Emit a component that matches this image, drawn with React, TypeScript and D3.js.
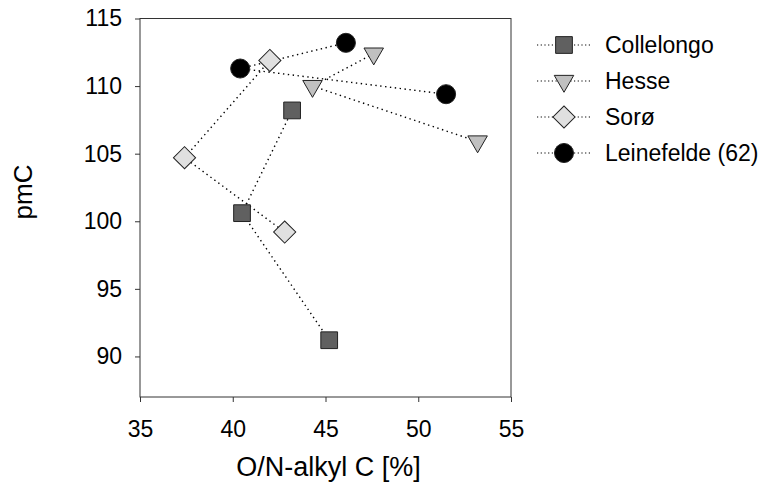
import React, { useEffect, useRef } from 'react';
import * as d3 from 'd3';

const xTicks = [35, 40, 45, 50, 55];
const yTicks = [90, 95, 100, 105, 110, 115];

const seriesNames = ['Collelongo', 'Hesse', 'Sorø', 'Leinefelde (62)'];
const colleX = [43.2, 40.5, 45.2];
const colleY = [108.2, 100.6, 91.2];
const hesseX = [47.6, 44.3, 53.2];
const hesseY = [112.4, 110.0, 105.9];
const soroX = [42.0, 37.4, 42.8];
const soroY = [111.9, 104.7, 99.2];
const leineX = [46.1, 40.4, 51.5];
const leineY = [113.2, 111.3, 109.4];

const FONT = '"Liberation Sans", Arial, sans-serif';

const App = () => {
    const svgRef = useRef<SVGSVGElement | null>(null);

    useEffect(() => {
        if (!svgRef.current) return;
        const svg = d3.select(svgRef.current);
        svg.selectAll('*').remove();

        const width = 768;
        const height = 502;
        const margin = { top: 18.5, left: 140, right: 257, bottom: 105 };

        const x = d3.scaleLinear().domain([35, 55]).range([margin.left, width - margin.right]);
        const y = d3.scaleLinear().domain([87, 115]).range([height - margin.bottom, margin.top]);

        const series = [
            { name: seriesNames[0], xs: colleX, ys: colleY, shape: d3.symbolSquare, size: 280, rotate: 0, fill: '#606060' },
            { name: seriesNames[1], xs: hesseX, ys: hesseY, shape: d3.symbolTriangle, size: 165, rotate: 180, fill: '#c0c0c0' },
            { name: seriesNames[2], xs: soroX, ys: soroY, shape: d3.symbolSquare, size: 245, rotate: 45, fill: '#e0e0e0' },
            { name: seriesNames[3], xs: leineX, ys: leineY, shape: d3.symbolCircle, size: 285, rotate: 0, fill: '#000000' }
        ];

        // frame
        svg.append('rect')
            .attr('x', x(35))
            .attr('y', y(115))
            .attr('width', x(55) - x(35))
            .attr('height', y(87) - y(115))
            .attr('fill', 'none')
            .attr('stroke', '#333')
            .attr('stroke-width', 1);

        // axes
        const xAxis = svg.append('g')
            .attr('transform', `translate(0,${y(87)})`)
            .call(d3.axisBottom(x).tickValues(xTicks).tickSize(5).tickPadding(19).tickFormat(d3.format('d')));
        xAxis.select('.domain').remove();
        xAxis.selectAll('line').attr('stroke', '#333');
        xAxis.selectAll('text')
            .attr('fill', '#000')
            .style('font-family', FONT)
            .style('font-size', '23px');

        const yAxis = svg.append('g')
            .attr('transform', `translate(${x(35)},0)`)
            .call(d3.axisLeft(y).tickValues(yTicks).tickSize(5).tickPadding(13).tickFormat(d3.format('d')));
        yAxis.select('.domain').remove();
        yAxis.selectAll('line').attr('stroke', '#333');
        yAxis.selectAll('text')
            .attr('fill', '#000')
            .style('font-family', FONT)
            .style('font-size', '23px');

        // axis titles
        svg.append('text')
            .attr('x', (x(35) + x(55)) / 2 + 3)
            .attr('y', 476)
            .attr('text-anchor', 'middle')
            .style('font-family', FONT)
            .style('font-size', '27px')
            .text('O/N-alkyl C [%]');

        svg.append('text')
            .attr('transform', `translate(32,192) rotate(-90)`)
            .attr('text-anchor', 'middle')
            .style('font-family', FONT)
            .style('font-size', '26px')
            .text('pmC');

        // lines
        series.forEach(s => {
            const pts = s.xs.map((v, i) => [x(v), y(s.ys[i])] as [number, number]);
            svg.append('path')
                .attr('d', d3.line()(pts))
                .attr('fill', 'none')
                .attr('stroke', '#000')
                .attr('stroke-width', 1.4)
                .attr('stroke-dasharray', '1.4,3.5');
        });

        // markers
        series.forEach(s => {
            const sym = d3.symbol().type(s.shape).size(s.size);
            svg.append('g')
                .selectAll('path')
                .data(s.xs.map((v, i) => [v, s.ys[i]]))
                .join('path')
                .attr('d', sym()!)
                .attr('transform', d => `translate(${x(d[0])},${y(d[1])}) rotate(${s.rotate})`)
                .attr('fill', s.fill)
                .attr('stroke', '#222')
                .attr('stroke-width', 1);
        });

        // legend
        const legend = svg.append('g').attr('transform', 'translate(537,45)');
        series.forEach((s, i) => {
            const row = legend.append('g').attr('transform', `translate(0,${i * 36})`);
            row.append('line')
                .attr('x1', 0)
                .attr('x2', 55)
                .attr('stroke', '#000')
                .attr('stroke-width', 1.2)
                .attr('stroke-dasharray', '1.2,2.5');
            const sym = d3.symbol().type(s.shape).size(s.size);
            row.append('path')
                .attr('d', sym()!)
                .attr('transform', `translate(27,0) rotate(${s.rotate})`)
                .attr('fill', s.fill)
                .attr('stroke', '#222')
                .attr('stroke-width', 1);
            row.append('text')
                .attr('x', 68)
                .attr('y', 8)
                .style('font-family', FONT)
                .style('font-size', '23px')
                .text(s.name);
        });
    }, []);

    return (
        <div style={{ position: 'absolute', left: 0, top: 0 }}>
            <svg ref={svgRef} width={768} height={502} style={{ display: 'block', background: '#fff' }} />
        </div>
    );
};

export default App;
